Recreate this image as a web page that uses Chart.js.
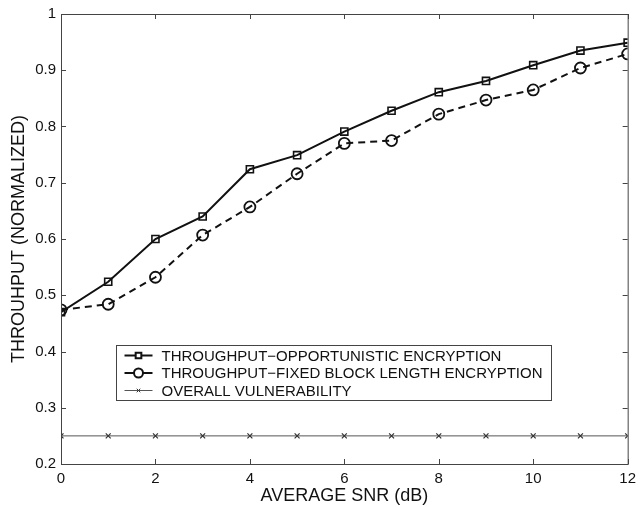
<!DOCTYPE html>
<html>
<head>
<meta charset="utf-8">
<script src="https://cdn.jsdelivr.net/npm/chart.js@4/dist/chart.umd.min.js"></script>
<style>
  html, body { margin: 0; padding: 0; background: #fff; }
  #wrap { width: 642px; height: 507px; position: relative; }
</style>
</head>
<body>
<div id="wrap"><canvas id="snrChart" width="642" height="507"></canvas></div>
<script>
// values
const snrValues = [0, 1, 2, 3, 4, 5, 6, 7, 8, 9, 10, 11, 12];
const opportunistic = [0.470, 0.524, 0.600, 0.640, 0.724, 0.749, 0.791, 0.828, 0.861, 0.881, 0.909, 0.935, 0.949];
const fixedBlock = [0.474, 0.484, 0.532, 0.607, 0.657, 0.716, 0.770, 0.775, 0.822, 0.847, 0.865, 0.904, 0.929];
const vulnerability = [0.25, 0.25, 0.25, 0.25, 0.25, 0.25, 0.25, 0.25, 0.25, 0.25, 0.25, 0.25, 0.25];
const seriesLabels = [
    'THROUGHPUT\u2212OPPORTUNISTIC ENCRYPTION',
    'THROUGHPUT\u2212FIXED BLOCK LENGTH ENCRYPTION',
    'OVERALL VULNERABILITY'
];
const xTitle = 'AVERAGE SNR (dB)';
const yTitle = 'THROUHPUT (NORMALIZED)';

const FONT = 'Arial, "Liberation Sans", Helvetica, sans-serif';
const INK = '#111';

function toPoints(values) {
    return snrValues.map((x, i) => ({ x: x, y: values[i] }));
}

// box around the plot area with inward ticks on all four sides
const boxPlugin = {
    id: 'boxTicks',
    afterDatasetsDraw(chart) {
        const ctx = chart.ctx;
        const area = chart.chartArea;
        const xs = chart.scales.x;
        const ys = chart.scales.y;
        ctx.save();
        ctx.strokeStyle = '#444';
        ctx.lineWidth = 1;
        ctx.strokeRect(area.left + 0.5, area.top + 0.5, area.right - area.left, area.bottom - area.top);
        ctx.beginPath();
        xs.ticks.forEach(t => {
            const px = Math.round(xs.getPixelForValue(t.value)) + 0.5;
            ctx.moveTo(px, area.bottom);
            ctx.lineTo(px, area.bottom - 5);
            ctx.moveTo(px, area.top);
            ctx.lineTo(px, area.top + 5);
        });
        ys.ticks.forEach(t => {
            const py = Math.round(ys.getPixelForValue(t.value)) + 0.5;
            ctx.moveTo(area.left, py);
            ctx.lineTo(area.left + 5, py);
            ctx.moveTo(area.right, py);
            ctx.lineTo(area.right - 5, py);
        });
        ctx.stroke();
        ctx.restore();
    },
    afterDraw(chart) {
        // legend box inside the plot
        const ctx = chart.ctx;
        const xs = chart.scales.x;
        const ys = chart.scales.y;
        const left = Math.round(xs.getPixelForValue(1.17)) + 0.5;
        const right = Math.round(xs.getPixelForValue(10.37)) + 0.5;
        const top = Math.round(ys.getPixelForValue(0.411)) + 0.5;
        const bottom = Math.round(ys.getPixelForValue(0.314)) + 0.5;
        ctx.save();
        ctx.fillStyle = '#fff';
        ctx.fillRect(left, top, right - left, bottom - top);
        ctx.strokeStyle = '#444';
        ctx.lineWidth = 1;
        ctx.strokeRect(left, top, right - left, bottom - top);
        ctx.font = '15px ' + FONT;
        ctx.textBaseline = 'middle';
        chart.data.datasets.forEach((ds, i) => {
            const cy = top + 10 + i * 17.5;
            const x0 = left + 8;
            const x1 = left + 36;
            ctx.setLineDash([]);
            ctx.strokeStyle = ds.borderColor;
            ctx.lineWidth = ds.borderWidth;
            ctx.beginPath();
            ctx.moveTo(x0, cy);
            ctx.lineTo(x1, cy);
            ctx.stroke();
            ctx.fillStyle = '#fff';
            ctx.strokeStyle = ds.pointBorderColor;
            Chart.helpers.drawPoint(ctx, {
                pointStyle: ds.pointStyle,
                radius: ds.pointRadius - 1,
                borderWidth: ds.pointBorderWidth,
                rotation: 0
            }, (x0 + x1) / 2, cy);
            ctx.fillStyle = INK;
            ctx.fillText(ds.label, left + 45, cy + 1);
        });
        ctx.restore();
    }
};

const ctx = document.getElementById('snrChart').getContext('2d');
new Chart(ctx, {
    type: 'line',
    data: {
        datasets: [
            {
                label: seriesLabels[0],
                data: toPoints(opportunistic),
                borderColor: '#111',
                borderWidth: 2,
                pointStyle: 'rect',
                pointRadius: 5,
                pointBorderWidth: 1.6,
                pointBorderColor: '#111',
                pointBackgroundColor: 'rgba(0,0,0,0)',
                tension: 0
            },
            {
                label: seriesLabels[1],
                data: toPoints(fixedBlock),
                borderColor: '#111',
                borderWidth: 2,
                borderDash: [7, 5],
                pointStyle: 'circle',
                pointRadius: 5.5,
                pointBorderWidth: 1.8,
                pointBorderColor: '#111',
                pointBackgroundColor: 'rgba(0,0,0,0)',
                tension: 0
            },
            {
                label: seriesLabels[2],
                data: toPoints(vulnerability),
                borderColor: '#555',
                borderWidth: 1,
                pointStyle: 'crossRot',
                pointRadius: 3.5,
                pointBorderWidth: 1.2,
                pointBorderColor: '#333',
                pointBackgroundColor: 'rgba(0,0,0,0)',
                tension: 0
            }
        ]
    },
    options: {
        responsive: false,
        animation: false,
        layout: { padding: { top: 12, right: 8, bottom: 0, left: 0 } },
        plugins: {
            legend: { display: false },
            tooltip: { enabled: false }
        },
        scales: {
            x: {
                type: 'linear',
                min: 0,
                max: 12,
                grid: { display: false, drawTicks: false },
                border: { display: false },
                ticks: {
                    stepSize: 2,
                    padding: 6,
                    color: INK,
                    font: { family: FONT, size: 15 },
                    maxRotation: 0
                },
                title: {
                    display: true,
                    text: xTitle,
                    color: INK,
                    font: { family: FONT, size: 18 },
                    padding: { top: 0, bottom: 0 }
                },
                afterFit(scale) { scale.height = 43; }
            },
            y: {
                type: 'linear',
                min: 0.2,
                max: 1,
                grid: { display: false, drawTicks: false },
                border: { display: false },
                ticks: {
                    stepSize: 0.1,
                    padding: 5,
                    color: INK,
                    font: { family: FONT, size: 15 },
                    callback: (v) => String(Math.round(v * 10) / 10)
                },
                title: {
                    display: true,
                    text: yTitle,
                    color: INK,
                    font: { family: FONT, size: 18 },
                    padding: { top: 8, bottom: 0 }
                },
                afterFit(scale) { scale.width = 61; }
            }
        }
    },
    plugins: [boxPlugin]
});
</script>
</body>
</html>
